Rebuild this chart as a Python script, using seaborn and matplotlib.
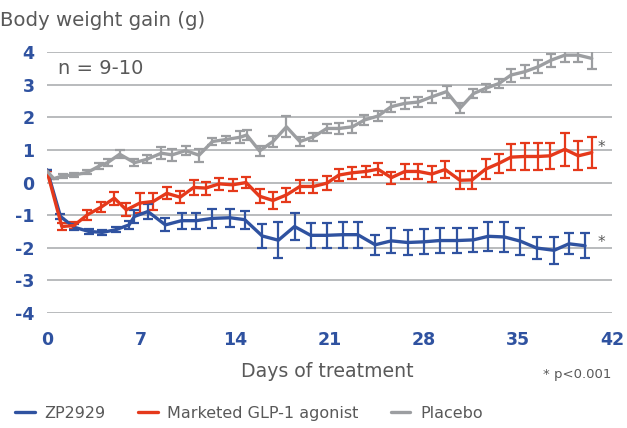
import matplotlib
matplotlib.use("Agg")
import matplotlib.pyplot as plt
import seaborn as sns
import pandas as pd
import numpy as np

# ---------------- data ----------------
zp_days = [0, 1.0, 2.0, 3.1, 4.1, 5.1, 6.1, 6.5, 7.5, 8.8, 10.0, 11.1, 12.3, 13.6,
           14.7, 16.0, 17.2, 18.4, 19.6, 20.8, 22.0, 23.1, 24.4, 25.6, 26.8, 28.0,
           29.2, 30.5, 31.7, 32.8, 34.0, 35.2, 36.4, 37.7, 38.8, 40.0]
zp_vals = [0.39, -1.04, -1.37, -1.50, -1.53, -1.45, -1.30, -1.04, -0.89, -1.30, -1.17, -1.17, -1.10, -1.08,
           -1.14, -1.64, -1.77, -1.35, -1.62, -1.62, -1.60, -1.60, -1.91, -1.79, -1.84, -1.82,
           -1.78, -1.78, -1.76, -1.65, -1.67, -1.80, -2.01, -2.08, -1.88, -1.94]
zp_err = [0.0, 0.08, 0.10, 0.08, 0.08, 0.08, 0.12, 0.20, 0.22, 0.20, 0.25, 0.25, 0.28, 0.28,
          0.28, 0.38, 0.55, 0.40, 0.38, 0.38, 0.40, 0.40, 0.30, 0.38, 0.38, 0.38,
          0.38, 0.38, 0.38, 0.45, 0.45, 0.42, 0.35, 0.42, 0.32, 0.38]

glp_days = [0, 1.1, 2.0, 3.0, 4.0, 5.0, 5.9, 6.9, 7.9, 8.9, 9.9, 10.9, 11.8, 12.8, 13.8,
            14.8, 15.8, 16.8, 17.8, 18.8, 19.8, 20.8, 21.7, 22.7, 23.7, 24.6, 25.6, 26.6,
            27.6, 28.6, 29.6, 30.7, 31.6, 32.6, 33.6, 34.5, 35.5, 36.5, 37.4, 38.5, 39.5, 40.5]
glp_vals = [0.35, -1.35, -1.32, -0.99, -0.76, -0.48, -0.84, -0.63, -0.58, -0.33, -0.45, -0.15, -0.17, -0.04, -0.07,
            0.00, -0.42, -0.55, -0.38, -0.12, -0.12, -0.02, 0.23, 0.30, 0.34, 0.41, 0.15, 0.34,
            0.34, 0.26, 0.40, 0.07, 0.08, 0.41, 0.59, 0.78, 0.80, 0.80, 0.82, 1.02, 0.82, 0.92]
glp_err = [0.0, 0.10, 0.10, 0.15, 0.15, 0.20, 0.20, 0.30, 0.25, 0.18, 0.18, 0.22, 0.20, 0.18, 0.18,
           0.18, 0.22, 0.25, 0.22, 0.20, 0.20, 0.22, 0.18, 0.18, 0.18, 0.18, 0.18, 0.22,
           0.22, 0.25, 0.25, 0.28, 0.28, 0.30, 0.30, 0.40, 0.40, 0.40, 0.40, 0.50, 0.45, 0.48]

pla_days = [0, 0.5, 1.2, 2.0, 3.0, 3.9, 4.5, 5.4, 6.5, 7.4, 8.5, 9.3, 10.3, 11.3, 12.3, 13.3,
            14.35, 14.85, 15.8, 16.8, 17.8, 18.8, 19.8, 20.8, 21.7, 22.7, 23.6, 24.6, 25.6,
            26.6, 27.6, 28.6, 29.7, 30.7, 31.7, 32.6, 33.6, 34.5, 35.5, 36.5, 37.5, 38.5, 39.5, 40.5]
pla_vals = [0.35, 0.12, 0.21, 0.23, 0.31, 0.51, 0.61, 0.87, 0.61, 0.71, 0.90, 0.85, 0.98, 0.84, 1.26, 1.32,
            1.39, 1.46, 0.97, 1.26, 1.71, 1.26, 1.40, 1.66, 1.66, 1.71, 1.92, 2.04, 2.33,
            2.43, 2.47, 2.63, 2.79, 2.28, 2.73, 2.89, 3.04, 3.30, 3.40, 3.55, 3.76, 3.91, 3.91, 3.81]
pla_err = [0.0, 0.0, 0.06, 0.06, 0.06, 0.08, 0.10, 0.12, 0.10, 0.12, 0.18, 0.18, 0.15, 0.20, 0.12, 0.12,
           0.18, 0.15, 0.15, 0.18, 0.32, 0.15, 0.12, 0.15, 0.18, 0.18, 0.15, 0.15, 0.15,
           0.18, 0.15, 0.18, 0.18, 0.15, 0.15, 0.12, 0.15, 0.20, 0.20, 0.20, 0.20, 0.22, 0.22, 0.32]

series_names = ["ZP2929", "Marketed GLP-1 agonist", "Placebo"]
x_ticks = [0, 7, 14, 21, 28, 35, 42]
y_ticks = [-4, -3, -2, -1, 0, 1, 2, 3, 4]

colors = {"ZP2929": "#2f52a0", "Marketed GLP-1 agonist": "#e5391b", "Placebo": "#9c9ea1"}

frames = []
for name, d, v, e in [(series_names[0], zp_days, zp_vals, zp_err),
                      (series_names[1], glp_days, glp_vals, glp_err),
                      (series_names[2], pla_days, pla_vals, pla_err)]:
    frames.append(pd.DataFrame({"day": d, "gain": v, "err": e, "group": name}))
df = pd.concat(frames, ignore_index=True)

# ---------------- plot ----------------
sns.set_theme(style="white")
plt.rcParams["font.family"] = ["DejaVu Sans"]

fig = plt.figure(figsize=(6.27, 4.28), dpi=100)
ax = fig.add_axes([0.075, 0.269, 0.901, 0.609])

for y in y_ticks:
    ax.axhline(y, color="#a6a8ab", lw=1.1, zorder=0)

# draw order: placebo, GLP-1, ZP2929 on top
for name in [series_names[2], series_names[1], series_names[0]]:
    sub = df[df["group"] == name]
    ax.errorbar(sub["day"], sub["gain"], yerr=sub["err"], fmt="none",
                ecolor=colors[name], elinewidth=1.6, capsize=3.4, capthick=1.6, zorder=2)

sns.lineplot(data=df, x="day", y="gain", hue="group", hue_order=series_names,
             palette=colors, linewidth=2.4, sort=False, estimator=None, ax=ax,
             legend=True, zorder=3)

ax.set_xlim(0, 42)
ax.set_ylim(-4, 4)
ax.set_xticks(x_ticks)
ax.set_yticks(y_ticks)
ax.set_xticklabels([str(t) for t in x_ticks])
ax.set_yticklabels([str(t) for t in y_ticks])
ax.tick_params(axis="both", length=0, labelsize=12.5, labelcolor="#2f52a0")
ax.tick_params(axis="x", pad=13)
ax.tick_params(axis="y", pad=9)
for lab in ax.get_xticklabels() + ax.get_yticklabels():
    lab.set_fontweight("bold")
for s in ax.spines.values():
    s.set_visible(False)
ax.set_xlabel("")
ax.set_ylabel("")

txt_color = "#595959"
fig.text(0.0, 0.953, "Body weight gain (g)", fontsize=14.2, color=txt_color, ha="left", va="center")
ax.text(0.8, 3.5, "n = 9-10", fontsize=14, color=txt_color, ha="left", va="center")
ax.text(40.9, 1.07, "*", fontsize=11, color=txt_color, ha="left", va="center")
ax.text(40.9, -1.85, "*", fontsize=11, color=txt_color, ha="left", va="center")
fig.text(0.522, 0.133, "Days of treatment", fontsize=13.6, color=txt_color, ha="center", va="center")
fig.text(0.975, 0.125, "* p<0.001", fontsize=9.5, color=txt_color, ha="right", va="center")

handles, labels = ax.get_legend_handles_labels()
ax.get_legend().remove()
leg = fig.legend(handles, labels, loc="center left", bbox_to_anchor=(0.024, 0.035), ncol=3,
                 frameon=False, fontsize=11.5, handlelength=1.25, columnspacing=2.0,
                 handletextpad=0.6, borderpad=0, borderaxespad=0)
for t in leg.get_texts():
    t.set_color(txt_color)

fig.savefig("out.png", dpi=100)
